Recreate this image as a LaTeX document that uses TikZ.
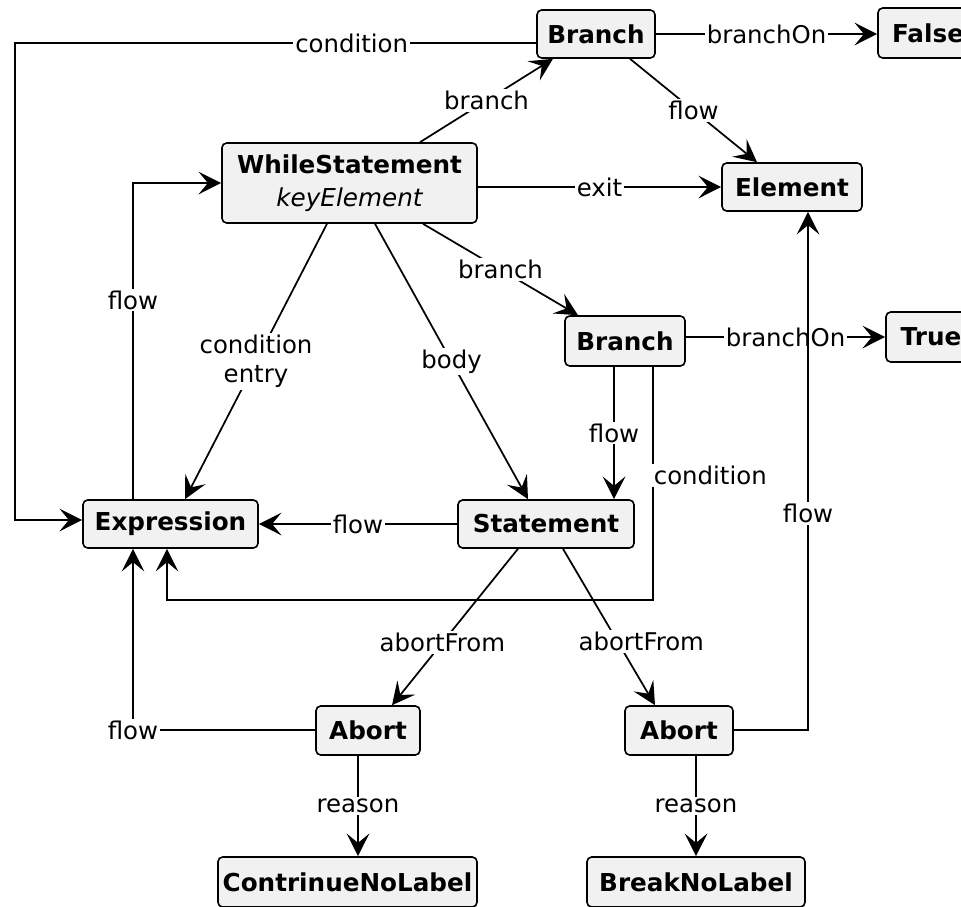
\documentclass[tikz,border=0pt]{standalone}
\usepackage{fontspec}
\setmainfont{DejaVu Sans}
\usetikzlibrary{arrows.meta,calc}
\definecolor{boxfill}{HTML}{F1F1F1}
\begin{document}
\begin{tikzpicture}[x=0.75pt,y=-0.75pt,
  box/.style={draw, line width=1.2pt, rounded corners=3.5pt, fill=boxfill, inner sep=0pt,
    font=\fontsize{18.5}{25}\selectfont\bfseries, align=center},
  lbl/.style={fill=white, inner sep=1.5pt, font=\fontsize{18.3}{22}\selectfont, align=center},
  arr/.style={line width=1.3pt, -{Stealth[length=17pt,width=17pt,inset=7pt]}},
  ln/.style={line width=1.3pt}]
\useasboundingbox (0,0) rectangle (961,907);
\clip (0,0) rectangle (961,907);
\fill[white] (0,0) rectangle (961,907);

% nodes
\node[box, minimum width=88.5pt, minimum height=36pt] (br1) at (596,34) {Branch};
\node[box, minimum width=75pt, minimum height=37.5pt] (fal) at (928,33) {False};
\node[box, minimum width=191.25pt, minimum height=60pt] (ws) at (349.5,183) {WhileStatement\\\mdseries\itshape keyElement};
\node[box, minimum width=105pt, minimum height=36pt] (el) at (792,187) {Element};
\node[box, minimum width=90pt, minimum height=37.5pt] (br2) at (625,341) {Branch};
\node[box, minimum width=67.5pt, minimum height=37.5pt] (tru) at (931,337) {True};
\node[box, minimum width=131.25pt, minimum height=36pt] (expr) at (170.5,524) {Expression};
\node[box, minimum width=132pt, minimum height=36pt] (stmt) at (546,524) {Statement};
\node[box, minimum width=78pt, minimum height=36.75pt] (ab1) at (368,730.5) {Abort};
\node[box, minimum width=81pt, minimum height=36.75pt] (ab2) at (679,730.5) {Abort};
\node[box, minimum width=194.25pt, minimum height=37.5pt] (cnl) at (347.5,882) {ContrinueNoLabel};
\node[box, minimum width=163.5pt, minimum height=37.5pt] (bnl) at (696,882) {BreakNoLabel};

% corner coordinates
\coordinate (c1) at (15,43);
\coordinate (c2) at (15,520);
\coordinate (k1) at (653,600);
\coordinate (k2) at (167,600);
\coordinate (k3) at (133,730);
\coordinate (k4) at (808,730);
\coordinate (k5) at (133,183);

% connectors
\draw[arr] (br2.east |- tru.west) -- node[lbl]{branchOn} (tru.west);
\draw[arr] ($(br1.west)+(0,9)$) -- node[lbl, pos=0.354]{condition} (c1) -- (c2) -- (c2 -| expr.west);
\draw[arr] (br1.east) -- node[lbl]{branchOn} (br1.east -| fal.west);
\draw[arr] ($(ws.north)+(70.5,0)$) -- node[lbl]{branch} ($(br1.south)+(-43,0)$);
\draw[arr] ($(br1.south)+(34,0)$) -- node[lbl]{flow} ($(el.north)+(-35,0)$);
\draw[arr] (ws.east |- el.west) -- node[lbl]{exit} (el.west);
\draw[arr] ($(ws.south)+(73.5,0)$) -- node[lbl]{branch} ($(br2.north)+(-47,0)$);
\draw[arr] ($(ws.south)+(-22.5,0)$) -- node[lbl]{condition\\entry} ($(expr.north)+(14.5,0)$);
\draw[arr] ($(ws.south)+(25.5,0)$) -- node[lbl]{body} ($(stmt.north)+(-18,0)$);
\draw[arr] ($(br2.south)+(-11,0)$) -- node[lbl]{flow} ($(stmt.north)+(68,0)$);
\draw[arr] (br2.south -| k1) -- node[lbl, pos=0.466, anchor=west, xshift=-1.5pt]{condition} (k1) -- (k2) -- (k2 |- expr.south);
\draw[arr] (stmt.west) -- node[lbl]{flow} (expr.east);
\draw[arr] ($(stmt.south)+(-28,0)$) -- node[lbl, pos=0.6]{abortFrom} ($(ab1.north)+(24,0)$);
\draw[arr] ($(stmt.south)+(17,0)$) -- node[lbl, pos=0.59, xshift=18pt]{abortFrom} ($(ab2.north)+(-24,0)$);
\draw[arr] (ab1.west |- k3) -- (k3) node[lbl]{flow} -- (k3 |- expr.south);
\draw[arr] (ab2.east |- k4) -- (k4) -- node[lbl, pos=0.418]{flow} (k4 |- el.south);
\draw[arr] ($(ab1.south)+(-10,0)$) coordinate (r1) -- node[lbl]{reason} (r1 |- cnl.north);
\draw[arr] (ab2.south -| bnl.north) -- node[lbl]{reason} (bnl.north);
\draw[arr] ($(expr.north)+(-37.5,0)$) -- node[lbl, pos=0.63]{flow} (k5) -- (k5 -| ws.west);
\end{tikzpicture}
\end{document}
